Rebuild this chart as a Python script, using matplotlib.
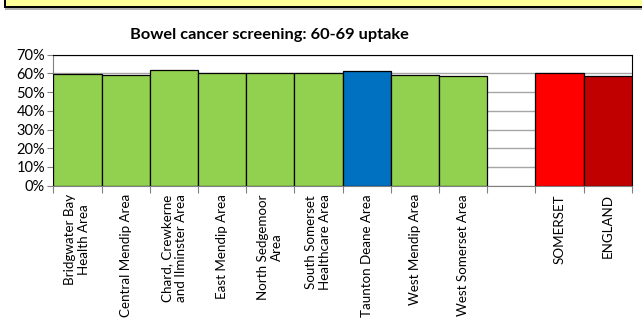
import matplotlib
matplotlib.use("Agg")
import matplotlib.pyplot as plt
from matplotlib.patches import Rectangle

categories = ["Bridgwater Bay\nHealth Area", "Central Mendip Area", "Chard, Crewkerne\nand Ilminster Area",
              "East Mendip Area", "North Sedgemoor\nArea", "South Somerset\nHealthcare Area",
              "Taunton Deane Area", "West Mendip Area", "West Somerset Area", "", "SOMERSET", "ENGLAND"]
values = [59.6, 59.1, 62.0, 60.3, 60.3, 60.3, 61.1, 59.2, 58.5, None, 60.3, 58.5]
colors = ["#92D050"] * 6 + ["#0070C0"] + ["#92D050"] * 2 + ["white", "#FF0000", "#C00000"]
yticks = [0, 10, 20, 30, 40, 50, 60, 70]

W, H = 642, 327
fig = plt.figure(figsize=(W / 100, H / 100), dpi=100)
plt.rcParams['font.family'] = ['Lato', 'DejaVu Sans']

# yellow banner at top
fig.patches.append(Rectangle((5 / W, 1 - 10 / H), 1 - 5 / W, 2 / H, transform=fig.transFigure,
                             facecolor="#B0B0B0", edgecolor="none"))
fig.patches.append(Rectangle((4 / W, 1 - 8 / H), 1 - 4 / W, 8 / H, transform=fig.transFigure,
                             facecolor="black", edgecolor="none"))
fig.patches.append(Rectangle((6 / W, 1 - 5.7 / H), 1 - 6 / W, 5.7 / H, transform=fig.transFigure,
                             facecolor="#FFFF99", edgecolor="none"))

left, right, top, bottom = 53.3, 631.7, 54.7, 185.7
ax = fig.add_axes([left / W, 1 - bottom / H, (right - left) / W, (bottom - top) / H])

x = list(range(len(categories)))
for i, (v, c) in enumerate(zip(values, colors)):
    if v is None:
        continue
    ax.bar(i, v, width=1.0, color=c, edgecolor="black", linewidth=0.9, zorder=3)

ax.set_xlim(-0.5, len(categories) - 0.5)
ax.set_ylim(0, 70)
ax.set_yticks(yticks)
ax.set_yticklabels([f"{t}%" for t in yticks], fontsize=10.5)
ax.yaxis.grid(True, color="#A6A6A6", linewidth=1.0, zorder=0)
ax.set_axisbelow(True)

ax.set_xticks([i - 0.5 for i in range(len(categories) + 1)], minor=False)
ax.set_xticklabels([])
ax.set_xticks(x, minor=True)
ax.set_xticklabels(categories, minor=True, rotation=90, fontsize=9.6, va="top", ha="center",
                   multialignment="center", linespacing=1.2)
ax.tick_params(axis="x", which="major", length=5, color="#808080", width=0.8)
ax.tick_params(axis="x", which="minor", length=0, pad=6)
ax.tick_params(axis="y", length=4, color="#808080", width=0.8, pad=2)

for s in ["left", "bottom"]:
    ax.spines[s].set_color("#808080")
    ax.spines[s].set_linewidth(0.8)
for s in ["top", "right"]:
    ax.spines[s].set_color("black")
    ax.spines[s].set_linewidth(0.8)

fig.text(269 / W, 1 - 35 / H, "Bowel cancer screening: 60-69 uptake", ha="center", va="center",
         fontsize=11.8, fontweight="bold")

fig.savefig("out.png", dpi=100)
